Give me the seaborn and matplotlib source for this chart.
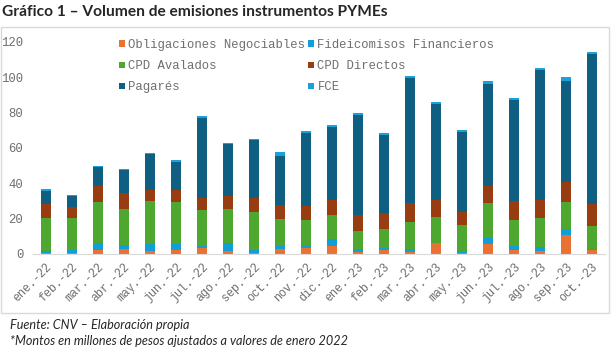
import pandas as pd
import numpy as np
import matplotlib
matplotlib.use("Agg")
import matplotlib.pyplot as plt
from matplotlib.patches import Patch, Rectangle
import seaborn as sns

# Data (millones de pesos, valores ene-2022)
meses = ["ene.-22", "feb.-22", "mar.-22", "abr.-22", "may.-22", "jun.-22",
         "jul.-22", "ago.-22", "sep.-22", "oct.-22", "nov.-22", "dic.-22",
         "ene.-23", "feb.-23", "mar.-23", "abr.-23", "may.-23", "jun.-23",
         "jul.-23", "ago.-23", "sep.-23", "oct.-23"]

obligaciones = [0.3, 0.6, 2.5, 2.8, 1.7, 2.5, 3.6, 1.7, 0.6, 2.8, 3.6,
                4.5, 1.3, 2.5, 1.3, 6.2, 0.6, 5.8, 2.5, 1.7, 10.8, 2.5]
fideicomisos = [1.4, 1.7, 3.7, 2.3, 4.1, 3.3, 1.1, 4.5, 1.7, 1.9, 1.3,
                3.8, 1.5, 0.9, 1.5, 0.0, 0.7, 3.4, 2.2, 2.3, 3.4, 0.3]
cpd_avalados = [18.9, 18.3, 23.2, 20.4, 24.2, 23.6, 20.2, 19.3, 21.5, 15.1, 14.3,
                13.8, 10.2, 10.8, 15.3, 14.7, 15.1, 19.7, 14.5, 16.6, 15.4, 13.2]
cpd_directos = [7.9, 6.0, 9.3, 8.7, 6.2, 6.8, 6.8, 7.3, 7.9, 7.9, 8.0,
                8.5, 9.1, 9.0, 10.8, 9.7, 7.4, 9.8, 10.8, 10.2, 11.3, 12.5]
pagares = [7.2, 6.4, 10.5, 13.3, 20.4, 15.9, 45.3, 29.5, 32.8, 27.8, 41.3,
           41.3, 56.6, 44.2, 70.7, 54.3, 45.3, 57.5, 57.2, 73.4, 57.0, 84.7]
fce = [1.1, 0.6, 0.8, 0.6, 0.6, 1.1, 1.1, 0.5, 0.6, 2.2, 1.1,
       1.1, 1.1, 1.1, 1.2, 1.1, 1.1, 1.7, 1.1, 1.1, 2.3, 1.1]

series = ["Obligaciones Negociables", "Fideicomisos Financieros", "CPD Avalados",
          "CPD Directos", "Pagarés", "FCE"]
colores = ["#E97132", "#0F9ED5", "#4EA72E", "#983D12", "#0E5F82", "#1AA0DA"]

df = pd.DataFrame({"mes": meses,
                   series[0]: obligaciones, series[1]: fideicomisos,
                   series[2]: cpd_avalados, series[3]: cpd_directos,
                   series[4]: pagares, series[5]: fce})

# cumulative sums for stacking
acum = df[series].cumsum(axis=1)

sns.set_style("white")
mono = "Liberation Mono"
gris = "#6e6e6e"

fig = plt.figure(figsize=(6.11, 3.5), dpi=100)
ax = fig.add_axes([33 / 611, 96 / 350, 572 / 611, (254 - 41.7) / 350])

# draw from the top of the stack down so smaller totals sit in front
for nombre, color in reversed(list(zip(series, colores))):
    sns.barplot(x=df["mes"], y=acum[nombre], color=color, saturation=1,
                width=0.385, ax=ax, linewidth=0)

ax.set_ylim(0, 120)
ax.set_xlim(-0.5, len(meses) - 0.5)
ax.set_yticks(range(0, 121, 20))
ax.set_xlabel("")
ax.set_ylabel("")

for s in ["top", "right", "left"]:
    ax.spines[s].set_visible(False)
ax.spines["bottom"].set_color("#d9d9d9")

ax.set_xticks(np.arange(-0.5, len(meses), 1), minor=True)
ax.tick_params(axis="x", which="major", length=0, pad=5)
ax.tick_params(axis="x", which="minor", length=5, color="#d9d9d9", width=1)
ax.tick_params(axis="y", length=0, pad=7)

for lab in ax.get_xticklabels():
    lab.set_rotation(45)
    lab.set_ha("right")
    lab.set_rotation_mode("anchor")
    lab.set_family(mono)
    lab.set_fontsize(8.4)
    lab.set_color(gris)
for lab in ax.get_yticklabels():
    lab.set_family(mono)
    lab.set_fontsize(8.8)
    lab.set_color(gris)

# legend: 3 rows x 2 columns, row-wise order as in the reference
orden = [0, 2, 4, 1, 3, 5]
handles = [Patch(facecolor=colores[i], edgecolor="none", label=series[i]) for i in orden]
leg = fig.legend(handles=handles, ncol=2, frameon=False, loc="upper left",
                 bbox_to_anchor=(119 / 611, 1 - 39 / 350),
                 prop={"family": mono, "size": 8.8},
                 handlelength=0.45, handleheight=0.45, handletextpad=0.3,
                 columnspacing=0.25, labelspacing=0.75, borderpad=0, borderaxespad=0)
for t in leg.get_texts():
    t.set_color(gris)

# chart border
fig.patches.append(Rectangle((0.5 / 611, 1 - 313 / 350), 608 / 611, 286 / 350,
                             transform=fig.transFigure, fill=False,
                             edgecolor="#d9d9d9", linewidth=1))

fig.text(2 / 611, 1 - 12 / 350, "Gráfico 1 – Volumen de emisiones instrumentos PYMEs",
         fontsize=11.2, fontweight="bold", family="Lato", va="center", ha="left")
fig.text(10 / 611, 1 - 325 / 350, "Fuente: CNV – Elaboración propia",
         fontsize=9.1, style="italic", family="Lato", va="center", ha="left")
fig.text(10 / 611, 1 - 341 / 350, "*Montos en millones de pesos ajustados a valores de enero 2022",
         fontsize=9.1, style="italic", family="Lato", va="center", ha="left")

fig.savefig("out.png", dpi=100)
